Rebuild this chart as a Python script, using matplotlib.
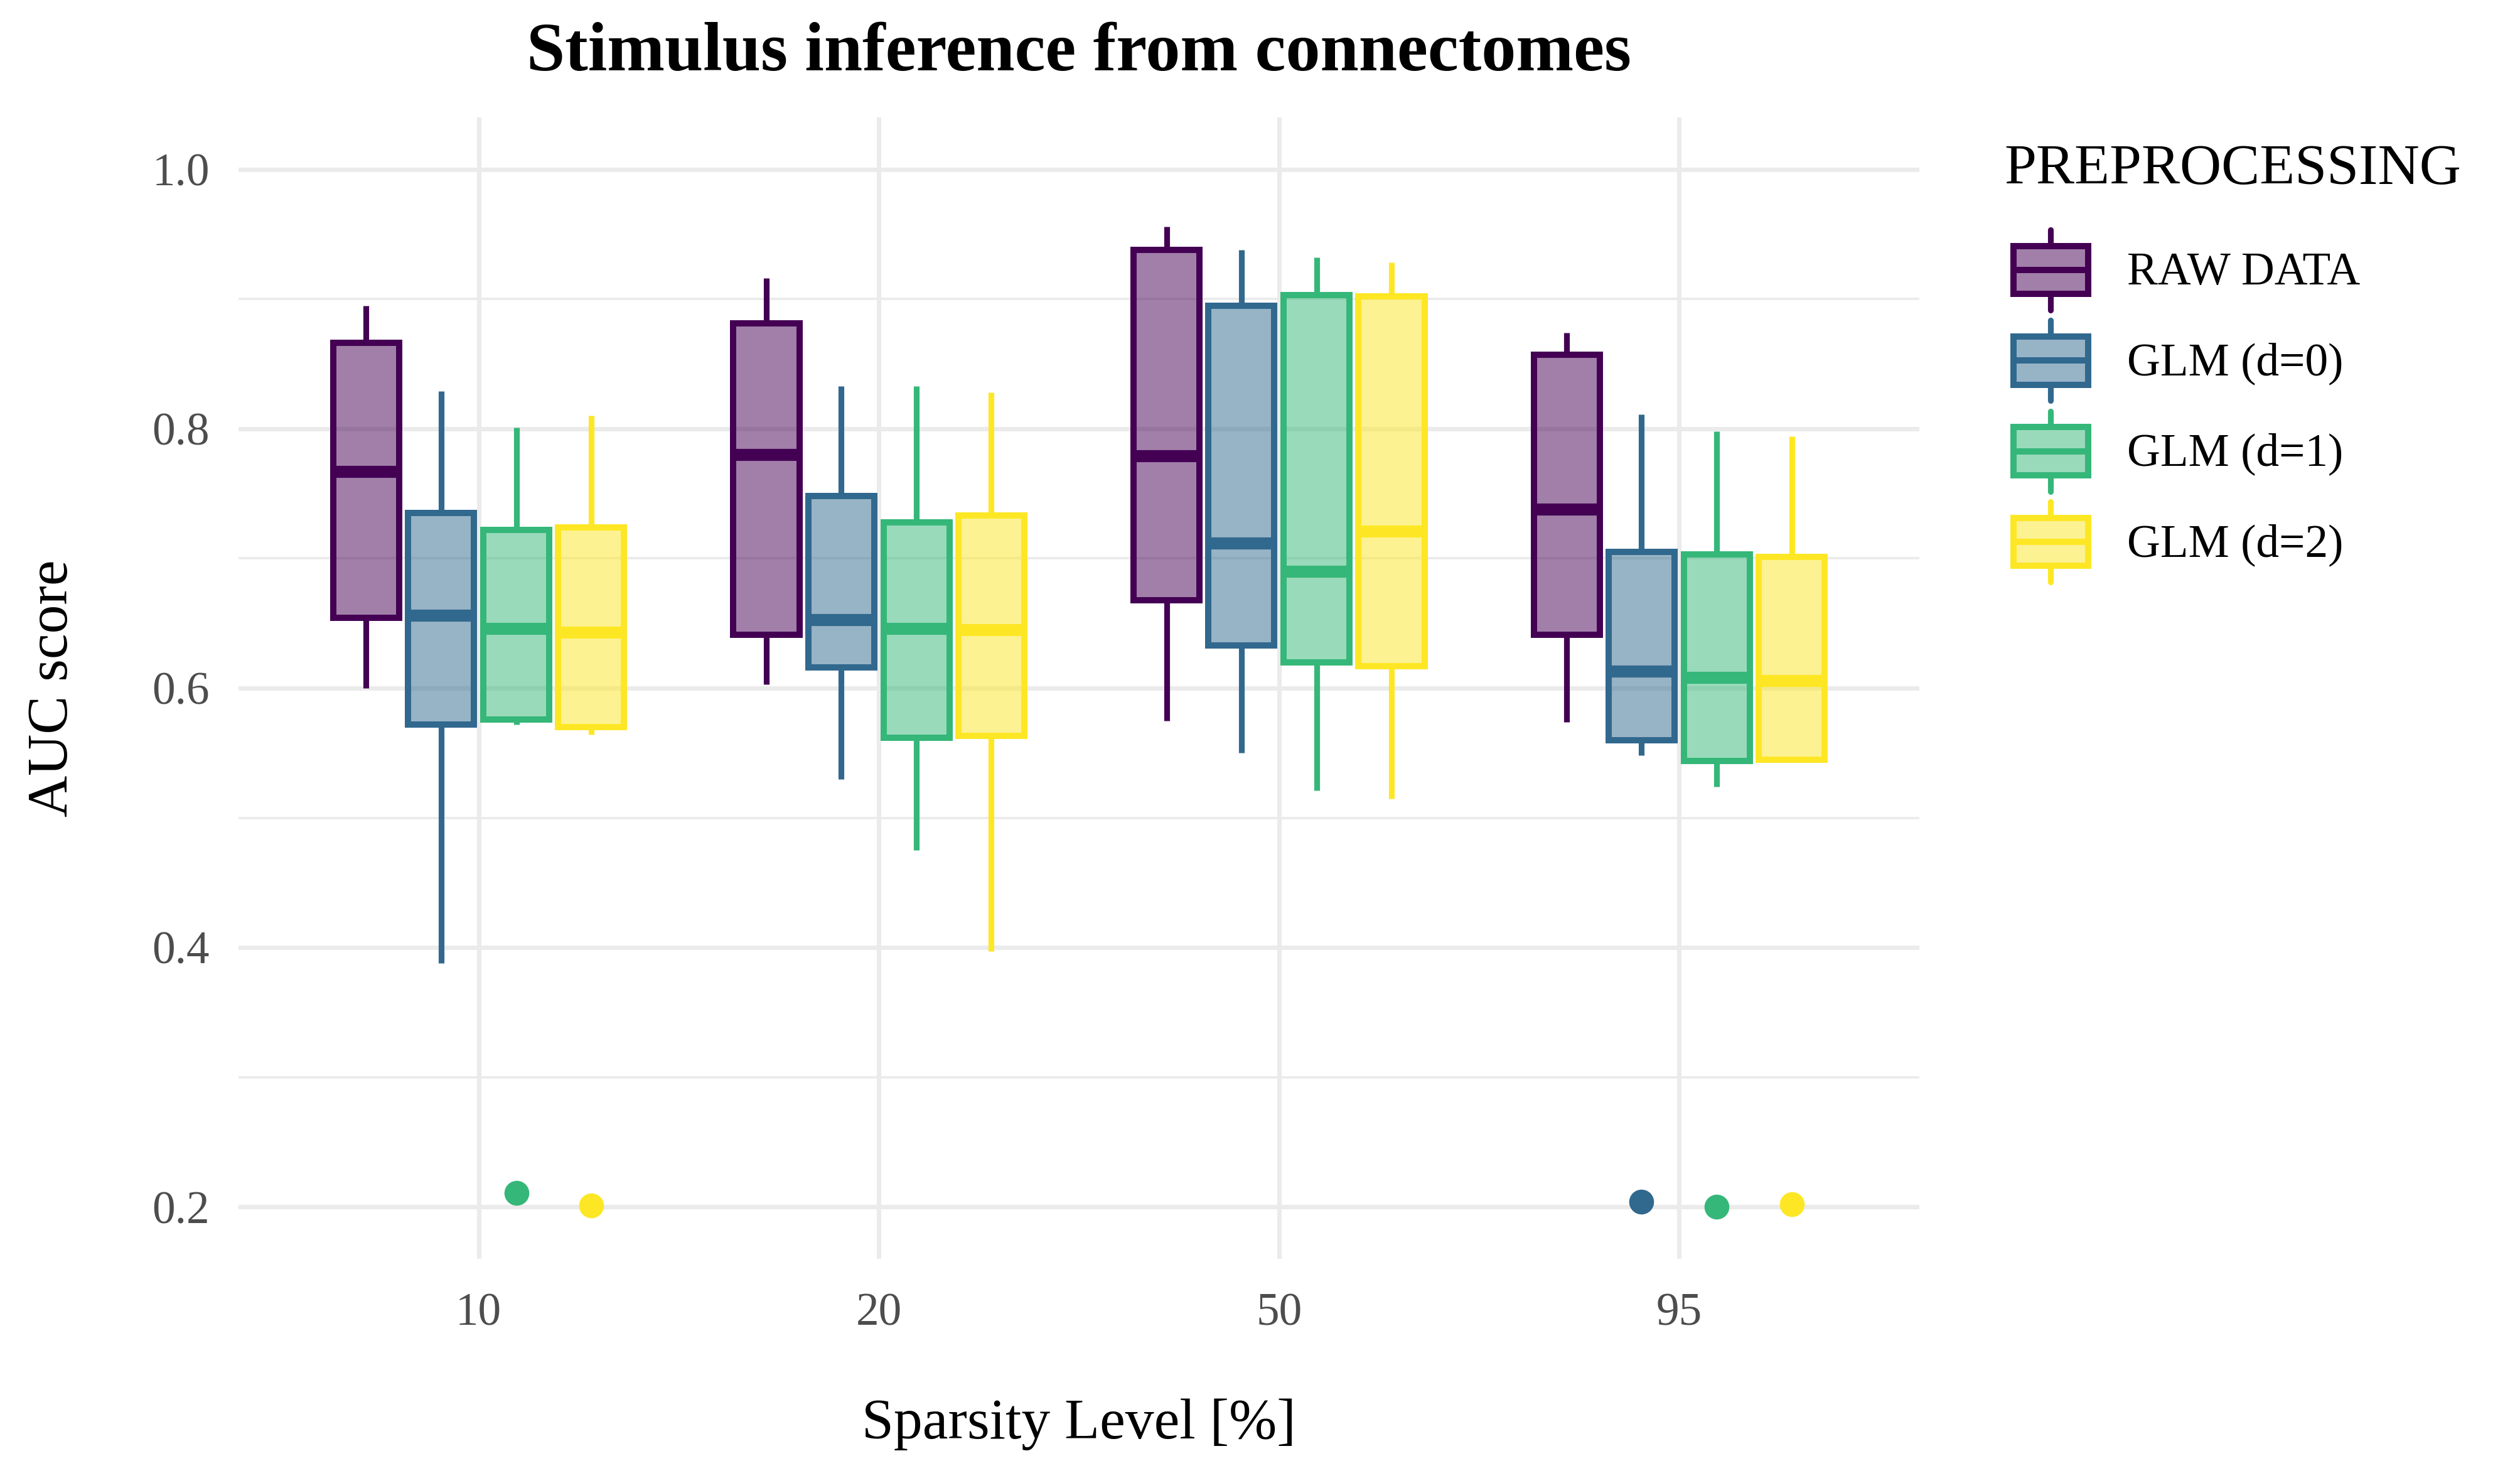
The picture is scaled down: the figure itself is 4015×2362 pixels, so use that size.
import matplotlib
matplotlib.use("Agg")
import matplotlib.pyplot as plt
from matplotlib.patches import Patch, Rectangle
from matplotlib.lines import Line2D
from matplotlib.legend_handler import HandlerBase
from matplotlib.colors import to_rgba

plt.rcParams['font.family'] = ['Liberation Serif', 'DejaVu Serif']

# Datos
niveles = ["10", "20", "50", "95"]
metodos = ["RAW DATA", "GLM (d=0)", "GLM (d=1)", "GLM (d=2)"]
colores = ["#440154", "#31688E", "#35B779", "#FDE725"]

# una fila por metodo, una columna por nivel de sparsity
bigote_inf = [[0.600, 0.603, 0.575, 0.574],
              [0.388, 0.530, 0.550, 0.548],
              [0.572, 0.475, 0.521, 0.524],
              [0.564, 0.397, 0.515, 0.545]]
q1 = [[0.654, 0.641, 0.668, 0.641],
      [0.572, 0.616, 0.633, 0.560],
      [0.576, 0.562, 0.620, 0.544],
      [0.570, 0.563, 0.617, 0.545]]
mediana = [[0.767, 0.780, 0.779, 0.738],
           [0.656, 0.653, 0.712, 0.613],
           [0.646, 0.646, 0.690, 0.608],
           [0.643, 0.645, 0.721, 0.606]]
q3 = [[0.866, 0.881, 0.938, 0.857],
      [0.735, 0.748, 0.895, 0.705],
      [0.722, 0.728, 0.903, 0.703],
      [0.724, 0.733, 0.902, 0.701]]
bigote_sup = [[0.895, 0.916, 0.956, 0.874],
              [0.829, 0.833, 0.938, 0.811],
              [0.801, 0.833, 0.932, 0.798],
              [0.810, 0.828, 0.928, 0.794]]
atipicos = [[[], [], [], []],
            [[], [], [], [0.204]],
            [[0.211], [], [], [0.200]],
            [[0.201], [], [], [0.202]]]

GRIS = "#EBEBEB"
LW_CAJA = 2.4
LW_MEDIANA = 4.6
LW_BIGOTE = 2.2


class HandlerCaja(HandlerBase):
    # dibuja el simbolo de caja al estilo ggplot en la leyenda
    def create_artists(self, legend, orig_handle, xdescent, ydescent,
                       width, height, fontsize, trans):
        c = orig_handle.get_edgecolor()
        x0, y0 = -xdescent, -ydescent
        cx = x0 + width / 2
        caja = Rectangle((x0, y0 + 0.2 * height), width, 0.6 * height,
                         facecolor=to_rgba(c, 0.5), edgecolor=c,
                         linewidth=LW_CAJA, transform=trans)
        med = Line2D([x0, x0 + width], [y0 + height / 2] * 2, color=c,
                     linewidth=LW_CAJA, transform=trans)
        b1 = Line2D([cx, cx], [y0, y0 + 0.2 * height], color=c,
                    linewidth=LW_BIGOTE, solid_capstyle='round', transform=trans)
        b2 = Line2D([cx, cx], [y0 + 0.8 * height, y0 + height], color=c,
                    linewidth=LW_BIGOTE, solid_capstyle='round', transform=trans)
        return [caja, med, b1, b2]


fig = plt.figure(figsize=(4015 / 300, 2362 / 300), dpi=300)
ax = fig.add_axes([380 / 4015, 1 - 2005 / 2362, 2678 / 4015, 1818 / 2362])

desplazamientos = [-0.281, -0.094, 0.094, 0.281]
for m in range(len(metodos)):
    c = colores[m]
    stats = []
    for i in range(len(niveles)):
        stats.append(dict(med=mediana[m][i], q1=q1[m][i], q3=q3[m][i],
                          whislo=bigote_inf[m][i], whishi=bigote_sup[m][i],
                          fliers=atipicos[m][i]))
    ax.bxp(stats, positions=[i + desplazamientos[m] for i in range(len(niveles))],
           widths=0.165, patch_artist=True, showcaps=False, manage_ticks=False,
           boxprops=dict(facecolor=to_rgba(c, 0.5), edgecolor=c, linewidth=LW_CAJA),
           medianprops=dict(color=c, linewidth=LW_MEDIANA, solid_capstyle='butt'),
           whiskerprops=dict(color=c, linewidth=LW_BIGOTE, solid_capstyle='butt'),
           flierprops=dict(marker='o', markerfacecolor=c, markeredgecolor=c,
                           markersize=8.5, linestyle='none'))

ax.set_xlim(-0.6, 3.6)
ax.set_ylim(0.16, 1.04)
ax.set_xticks(range(len(niveles)))
ax.set_xticklabels(niveles)
ax.set_yticks([0.2, 0.4, 0.6, 0.8, 1.0])
ax.set_yticklabels(["0.2", "0.4", "0.6", "0.8", "1.0"])
ax.set_yticks([0.3, 0.5, 0.7, 0.9], minor=True)
ax.tick_params(axis='both', which='both', length=0, labelsize=17.6,
               labelcolor="#4D4D4D")
ax.tick_params(axis='x', pad=13)
ax.tick_params(axis='y', pad=11)
ax.grid(True, which='major', color=GRIS, linewidth=1.7)
ax.grid(True, which='minor', axis='y', color=GRIS, linewidth=0.9)
ax.set_axisbelow(True)
for s in ax.spines.values():
    s.set_visible(False)

ax.set_xlabel("Sparsity Level [%]", fontsize=22, va='center')
ax.xaxis.set_label_coords(0.5, -(2269 - 2005) / 1818)
ax.set_ylabel("AUC score", fontsize=22, va='center')
ax.yaxis.set_label_coords(-(380 - 85) / 2678, 0.5)
ax.set_title("Stimulus inference from connectomes", fontsize=26.4,
             fontweight='bold', y=1 + (187 - 85) / 1818, va='center', pad=0)

# leyenda: titulo aparte para controlar su separacion
fig.text(3193 / 4015, 1 - 271 / 2362, "PREPROCESSING", fontsize=22,
         ha='left', va='center')
manijas = [Patch(facecolor=to_rgba(c, 0.5), edgecolor=c) for c in colores]
fig.legend(manijas, metodos, loc='upper left',
           bbox_to_anchor=(3208 / 4015, 1 - 366 / 2362),
           fontsize=17.6, frameon=False, borderpad=0, borderaxespad=0,
           handler_map={Patch: HandlerCaja()}, handlelength=1.62,
           handleheight=2.3, labelspacing=0.23, handletextpad=0.85)

fig.savefig("out.png", dpi=300)
